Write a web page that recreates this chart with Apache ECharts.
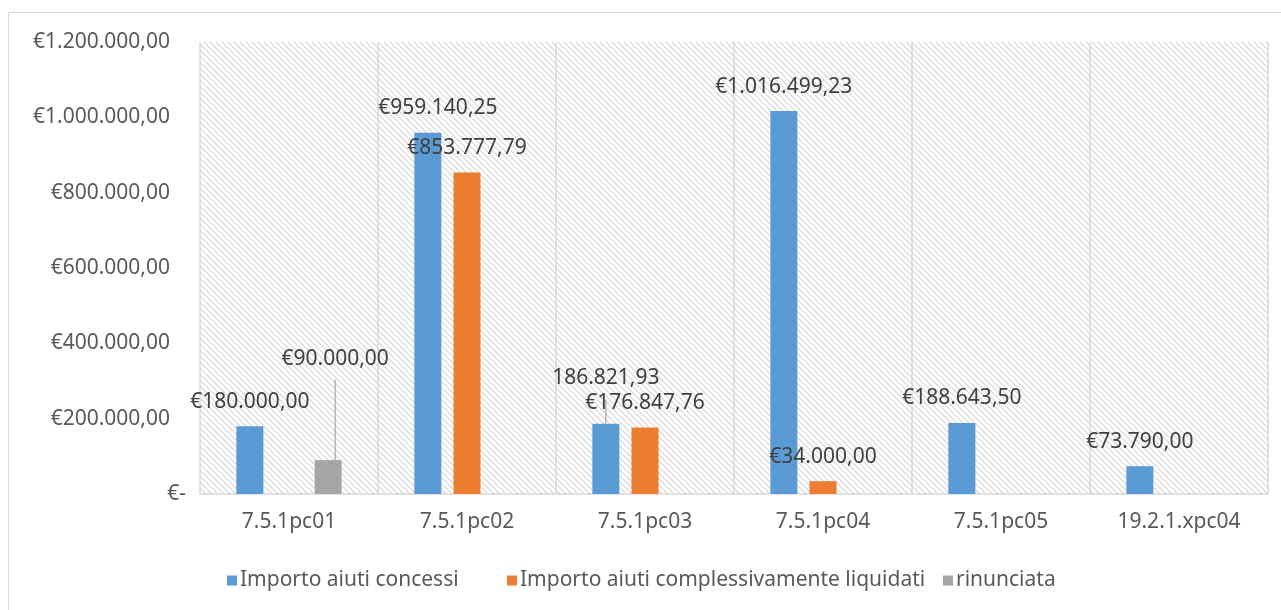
<!DOCTYPE html>
<html>
<head>
<meta charset="utf-8">
<script src="https://cdn.jsdelivr.net/npm/echarts@6/dist/echarts.min.js"></script>
<style>
  html, body { margin: 0; padding: 0; background: #fff; }
  #chart { width: 1281px; height: 610px; }
</style>
</head>
<body>
<div id="chart"></div>
<script>
// dati
const categories = ['7.5.1pc01', '7.5.1pc02', '7.5.1pc03', '7.5.1pc04', '7.5.1pc05', '19.2.1.xpc04']
const concessi = [180000.00, 959140.25, 186821.93, 1016499.23, 188643.50, 73790.00]
const liquidati = [0, 853777.79, 176847.76, 34000.00, 0, 0]
const rinunciata = [90000.00, 0, 0, 0, 0, 0]
const yTicks = [0, 200000, 400000, 600000, 800000, 1000000, 1200000]

const names = ['Importo aiuti concessi', 'Importo aiuti complessivamente liquidati', 'rinunciata']
const colors = ['#5b9bd5', '#ed7d31', '#a5a5a5']

// etichette spostate a mano (come nell'originale)
const labelShift = {
  0: { 1: { offset: [10, 0] }, 2: { offset: [0, -21], line: true, noEuro: true } },
  2: { 0: { offset: [7, -77], line: true } },
}

const FONT = 'Noto Sans'
const FS = 21

function fmt(v) {
  const parts = v.toFixed(2).split('.')
  parts[0] = parts[0].replace(/\B(?=(\d{3})+(?!\d))/g, '.')
  return parts[0] + ',' + parts[1]
}

// sfondo tratteggiato dell'area del grafico
function hatch() {
  const s = 6
  const c = document.createElement('canvas')
  c.width = s
  c.height = s
  const ctx = c.getContext('2d')
  ctx.fillStyle = '#ffffff'
  ctx.fillRect(0, 0, s, s)
  ctx.strokeStyle = '#d6d6d6'
  ctx.lineWidth = 1.2
  ctx.beginPath()
  ctx.moveTo(-1, -1); ctx.lineTo(s + 1, s + 1)
  ctx.moveTo(-1, s - 1); ctx.lineTo(1, s + 1)
  ctx.moveTo(s - 1, -1); ctx.lineTo(s + 1, 1)
  ctx.stroke()
  return c
}

function buildData(values, si) {
  return values.map((v, i) => {
    const sh = (labelShift[si] || {})[i]
    const item = { value: v }
    if (sh) {
      item.label = { offset: sh.offset }
      if (sh.line) item.labelLine = { show: true, lineStyle: { color: '#a6a6a6', width: 1.2 } }
    }
    return item
  })
}

const chart = echarts.init(document.getElementById('chart'))

const series = [concessi, liquidati, rinunciata].map((vals, si) => ({
  name: names[si],
  type: 'bar',
  barWidth: 27,
  barGap: '45%',
  itemStyle: { color: colors[si] },
  label: {
    show: true,
    position: 'top',
    distance: 14,
    fontFamily: FONT,
    fontSize: FS,
    color: '#404040',
    formatter: p => {
      if (!p.value) return ''
      const sh = (labelShift[si] || {})[p.dataIndex]
      return (sh && sh.noEuro ? '' : '€') + fmt(p.value)
    },
  },
  data: buildData(vals, si),
}))

const legends = names.map((n, i) => ({
  data: [n],
  left: [222, 502, 938][i],
  top: 565,
  icon: 'rect',
  itemWidth: 10,
  itemHeight: 10,
  itemGap: 0,
  textStyle: { fontFamily: FONT, fontSize: FS, color: '#595959', padding: [0, 0, 0, -2] },
  selectedMode: false,
}))

chart.setOption({
  animation: false,
  grid: {
    left: 200,
    right: 13,
    top: 42,
    bottom: 116,
    show: true,
    borderWidth: 0,
    backgroundColor: { image: hatch(), repeat: 'repeat' },
  },
  graphic: [{
    type: 'rect',
    shape: { x: 8.5, y: 12.5, width: 1300, height: 640 },
    style: { fill: 'none', stroke: '#d9d9d9', lineWidth: 1 },
    silent: true,
    z: -10,
  }],
  legend: legends,
  xAxis: {
    type: 'category',
    data: categories,
    axisTick: { show: false },
    axisLine: { lineStyle: { color: '#d9d9d9', width: 1.5 } },
    splitLine: { show: true, interval: 0, lineStyle: { color: '#d9d9d9', width: 1.5 } },
    axisLabel: { fontFamily: FONT, fontSize: FS, color: '#595959', margin: 18 },
  },
  yAxis: {
    type: 'value',
    min: yTicks[0],
    max: yTicks[yTicks.length - 1],
    interval: yTicks[1] - yTicks[0],
    axisLine: { show: false },
    axisTick: { show: false },
    splitLine: { show: false },
    axisLabel: {
      margin: 14,
      fontFamily: FONT,
      fontSize: FS,
      color: '#595959',
      formatter: v => v === 0 ? '{z|€-}' : '{a|€' + fmt(v) + '}',
      rich: {
        a: { fontFamily: FONT, fontSize: FS, color: '#595959', padding: [0, 16, 0, 0] },
        z: { fontFamily: FONT, fontSize: FS, color: '#595959' },
      },
    },
  },
  series: series,
})
</script>
</body>
</html>
